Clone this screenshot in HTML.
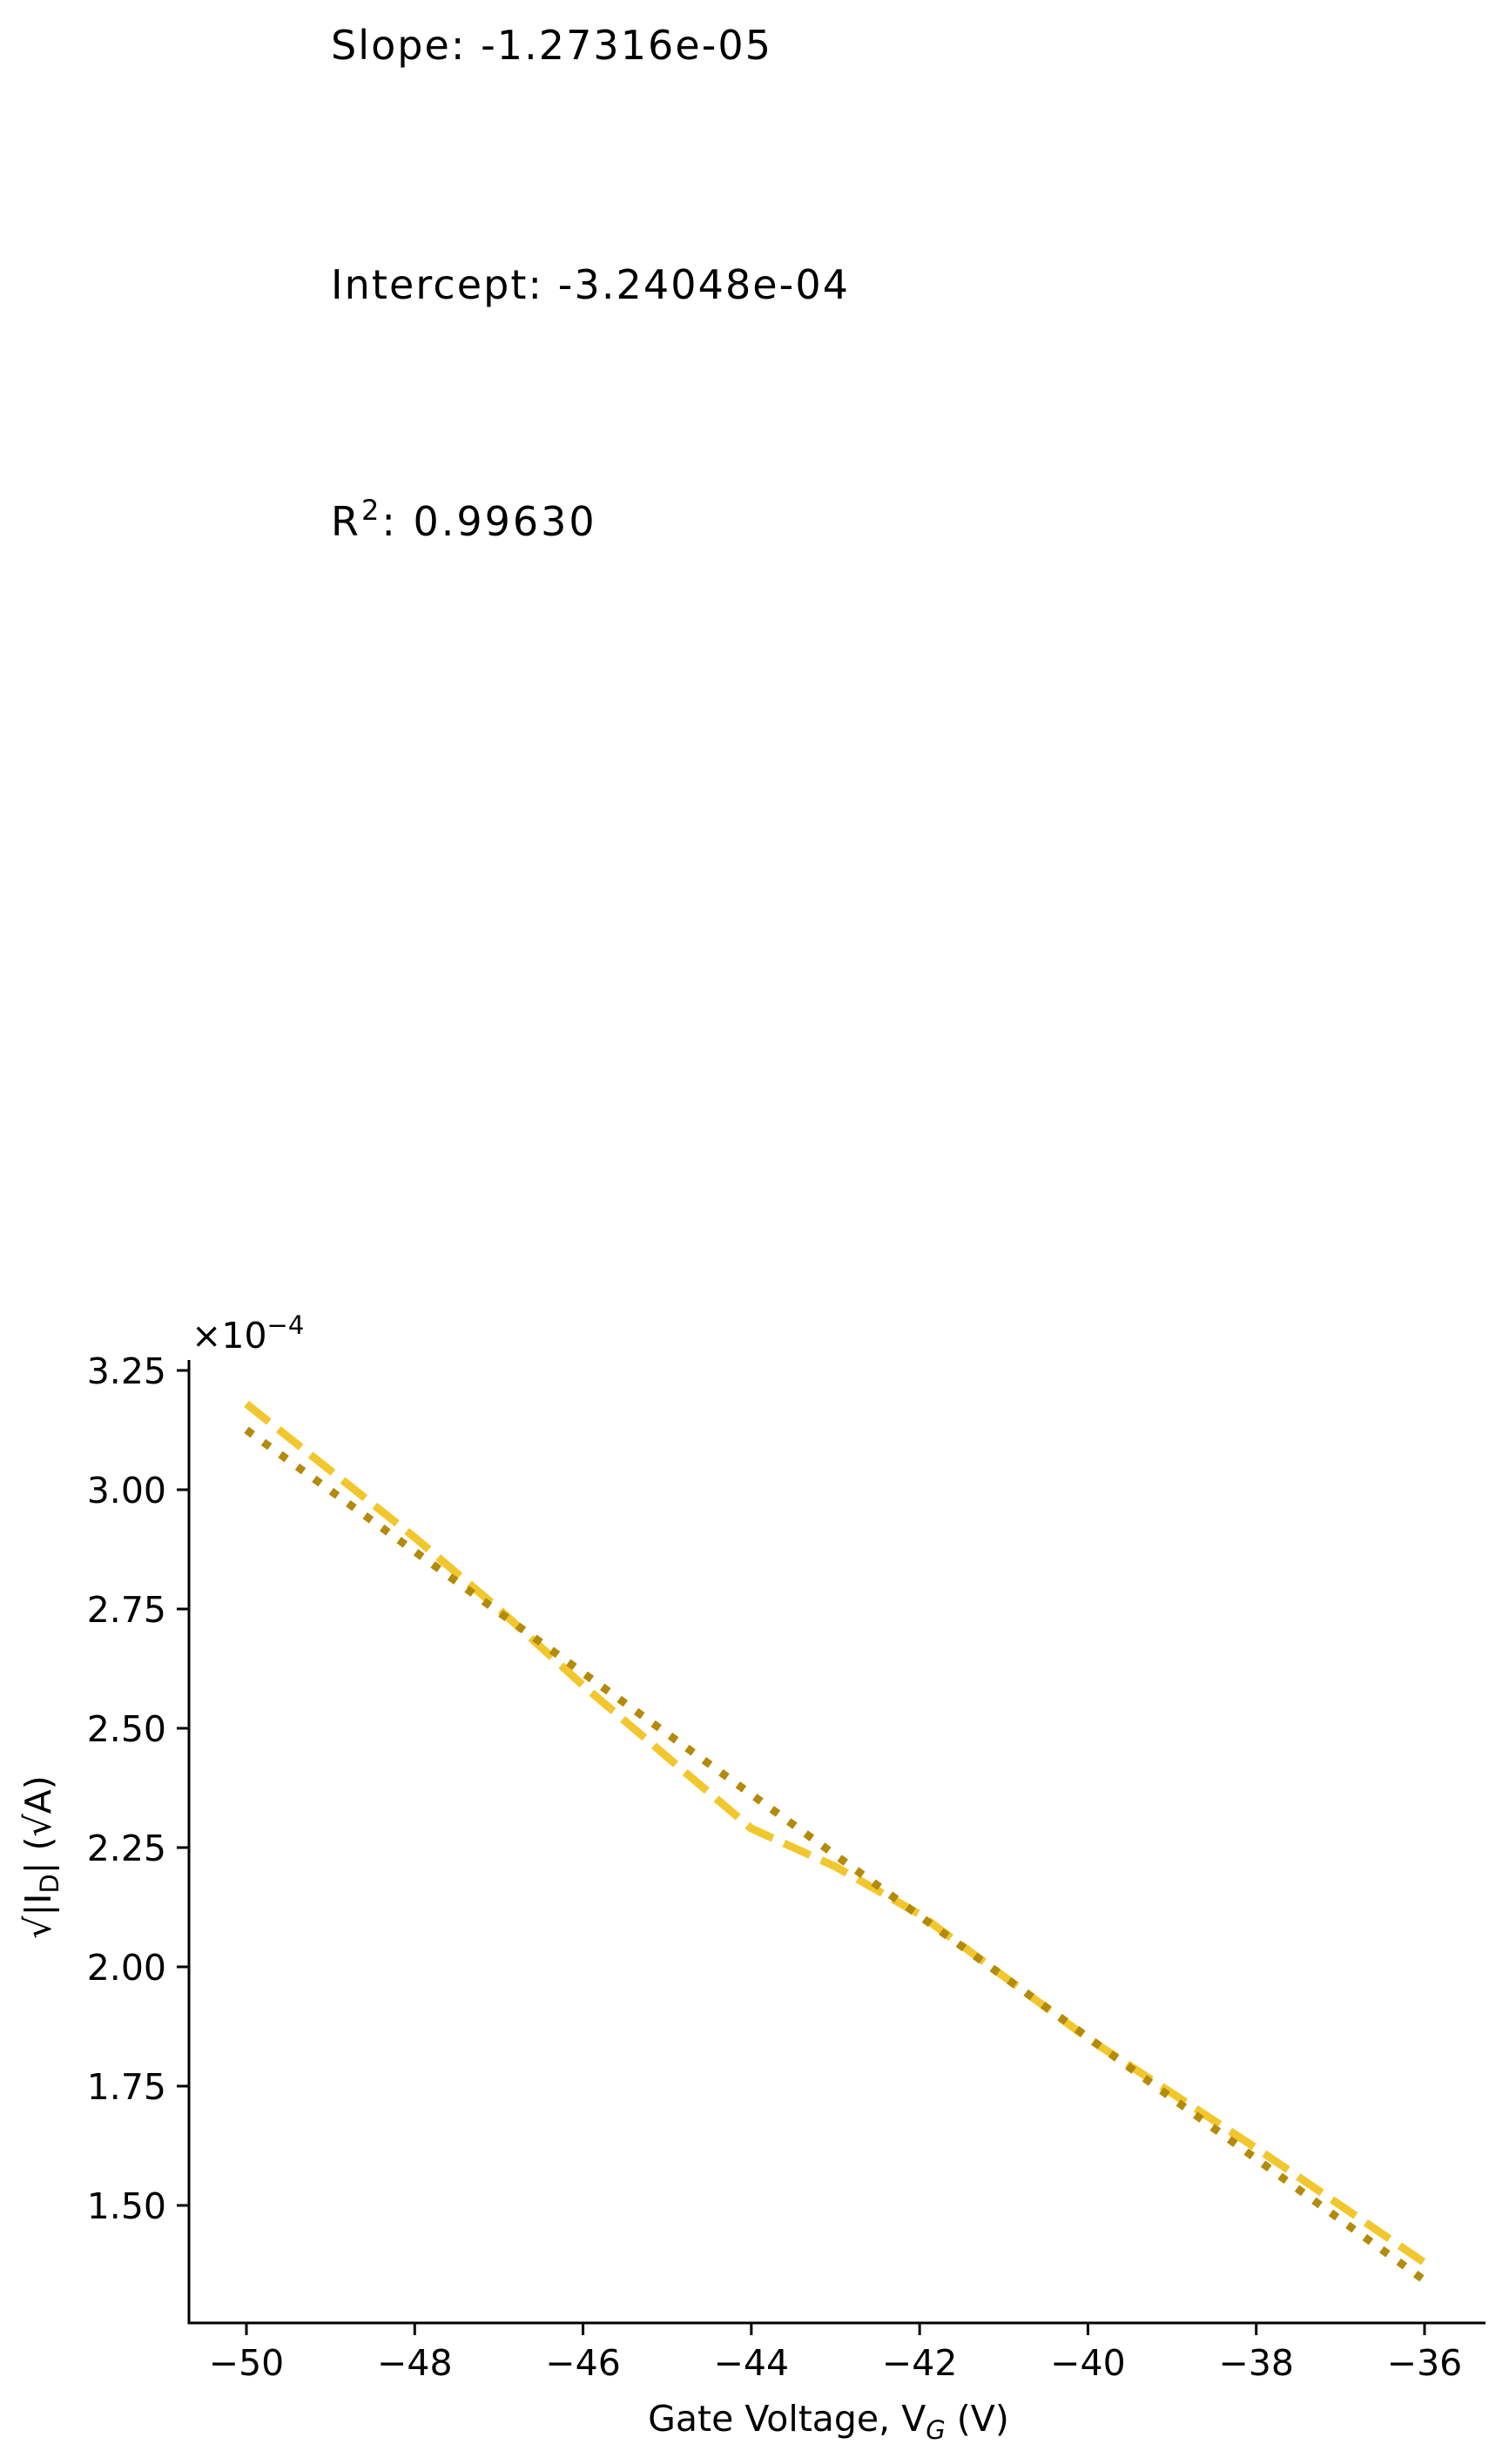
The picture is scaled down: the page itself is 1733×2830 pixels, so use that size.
<!DOCTYPE html>
<html><head><meta charset="utf-8"><style>
html,body{margin:0;padding:0;background:#fff;}
svg{display:block;font-family:"DejaVu Sans","Liberation Sans",sans-serif;}
</style></head><body>
<svg id="chart" width="1733" height="2830" viewBox="0 0 1733 2830" xmlns="http://www.w3.org/2000/svg">
<rect width="1733" height="2830" fill="#fff"/>
<text x="380" y="68" font-size="46" textLength="505" fill="#000">Slope: -1.27316e-05</text>
<text x="380" y="343" font-size="46" textLength="594" fill="#000">Intercept: -3.24048e-04</text>
<text x="380" y="615" font-size="46" letter-spacing="3" fill="#000">R<tspan dy="-18" font-size="32">2</tspan><tspan dy="18">: 0.99630</tspan></text>
<g id="axes"></g>
<g id="series"></g>
</svg>
<script>
const xTicks = [-50,-48,-46,-44,-42,-40,-38,-36];
const yTicks = [1.50,1.75,2.00,2.25,2.50,2.75,3.00,3.25];
const yTickLabels = ["1.50","1.75","2.00","2.25","2.50","2.75","3.00","3.25"];
const xTickLabels = ["\u221250","\u221248","\u221246","\u221244","\u221242","\u221240","\u221238","\u221236"];
const gateVoltage = [-50,-49,-48,-47,-46,-45,-44,-43,-42,-41,-40,-39,-38,-37,-36];
const sqrtDrain = [3.18,3.04,2.90,2.75,2.59,2.44,2.29,2.21,2.11,1.98,1.85,1.735,1.62,1.50,1.38];
const fitSlope = -1.27316e-05;
const fitIntercept = -3.24048e-04;
const fitRange = [-50,-36];

const NS="http://www.w3.org/2000/svg";
const L=217, R=1706, T=1562, B=2668;
const FS=41;
function xs(v){return 283+(v+50)*(1636-283)/14;}
function ys(v){return 1574+(3.25-v)*548;}
function mk(tag,attrs,parent){const e=document.createElementNS(NS,tag);for(const k in attrs)e.setAttribute(k,attrs[k]);parent.appendChild(e);return e;}
const axes=document.getElementById('axes');
const series=document.getElementById('series');

let e=mk('line',{x1:L,y1:T,x2:L,y2:B+1.5,stroke:'#000','stroke-width':3},axes);


e=mk('line',{x1:L-1.5,y1:B,x2:R,y2:B,stroke:'#000','stroke-width':3},axes);



xTicks.forEach((v,i)=>{
  const x=xs(v);
  let t=mk('line',{x1:x,y1:B,x2:x,y2:B+14,stroke:'#000','stroke-width':3},axes);
  
  
  let lb=mk('text',{x:x,y:B+60,'font-size':FS,'text-anchor':'middle',fill:'#000'},axes);
  lb.textContent=xTickLabels[i];
  
  
});
yTicks.forEach((v,i)=>{
  const y=ys(v);
  let t=mk('line',{x1:L-14,y1:y,x2:L,y2:y,stroke:'#000','stroke-width':3},axes);
  
  
  let lb=mk('text',{x:L-26,y:y+15,'font-size':FS,'text-anchor':'end',fill:'#000'},axes);
  lb.textContent=yTickLabels[i];
  
  
});
let off=mk('text',{x:220,y:1548,'font-size':FS,fill:'#000'},axes);
off.innerHTML='\u00d710<tspan dy="-16" font-size="29">\u22124</tspan>';


let xt=mk('text',{x:(L+R)/2-10,y:2792,'font-size':FS,'text-anchor':'middle',fill:'#000'},axes);
xt.innerHTML='Gate Voltage, V<tspan dy="9" font-size="29" font-style="italic">G</tspan><tspan dy="-9"> (V)</tspan>';


let yt=mk('text',{x:0,y:0,'font-size':FS,'text-anchor':'middle',fill:'#000',transform:'translate(58 '+((T+B)/2+18)+') rotate(-90)'},axes);
yt.innerHTML='\u221a|I<tspan dy="9" font-size="29">D</tspan><tspan dy="-9">| (\u221aA)</tspan>';



let d=gateVoltage.map((v,i)=>(i?'L':'M')+xs(v).toFixed(1)+' '+ys(sqrtDrain[i]).toFixed(1)).join(' ');
let p=mk('path',{d:d,fill:'none',stroke:'#F2C72E','stroke-width':9,'stroke-dasharray':'33 14'},series);


const f0=(fitSlope*fitRange[0]+fitIntercept)*1e4, f1=(fitSlope*fitRange[1]+fitIntercept)*1e4;
let fl=mk('line',{x1:xs(fitRange[0]),y1:ys(f0),x2:xs(fitRange[1]),y2:ys(f1),stroke:'#B38A0A','stroke-width':9,'stroke-dasharray':'9 15'},series);


</script>
</body></html>
